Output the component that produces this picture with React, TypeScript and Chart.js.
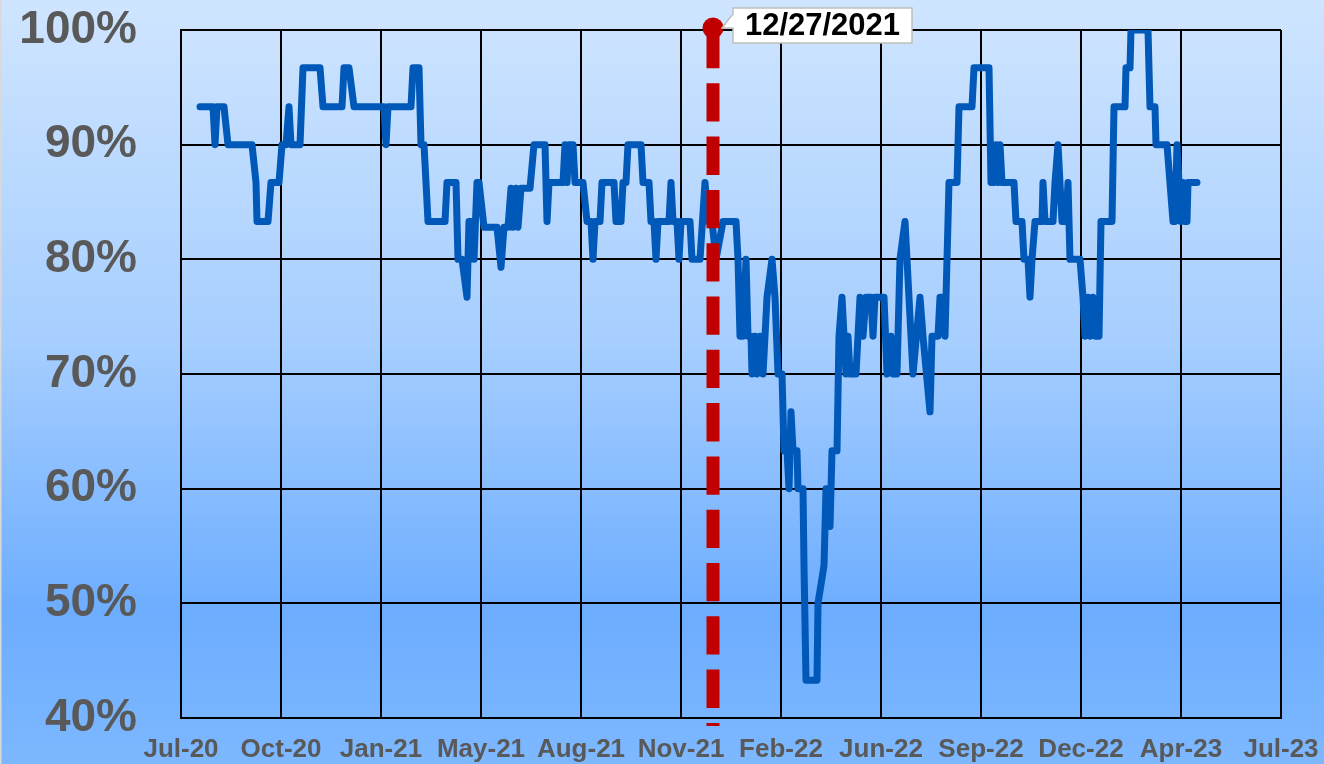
import React, { useEffect, useRef } from "react";
import { Chart, registerables } from "chart.js";

Chart.register(...registerables);

// x positions are days from the first axis tick (Jul-20); ticks every 100 days
const xTickLabels = ["Jul-20", "Oct-20", "Jan-21", "May-21", "Aug-21", "Nov-21", "Feb-22", "Jun-22", "Sep-22", "Dec-22", "Apr-23", "Jul-23"];
const yTickValues = [40, 50, 60, 70, 80, 90, 100];

const days = [
  19, 32, 34, 36, 43, 47, 71, 75, 76, 87, 90, 98, 101, 105, 108, 110, 119, 122, 139, 142,
  161, 163, 168, 173, 203, 205, 207, 230, 232, 238, 240, 243, 245, 247, 264, 266, 275, 277, 281, 286,
  288, 291, 293, 296, 298, 303, 316, 320, 323, 327, 330, 332, 335, 337, 340, 349, 353, 364, 366, 368,
  382, 384, 386, 388, 392, 394, 402, 406, 410, 412, 414, 419, 421, 433, 435, 440, 442, 445, 447, 460,
  462, 468, 470, 473, 475, 477, 488, 490, 492, 496, 498, 500, 509, 511, 519, 524, 527, 531, 535, 542,
  555, 557, 559, 562, 565, 567, 570, 571, 574, 576, 579, 582, 584, 586, 591, 594, 597, 601, 603, 606,
  608, 610, 612, 616, 617, 622, 623, 625, 636, 637, 643, 645, 647, 649, 651, 656, 658, 661, 665, 667,
  669, 675, 679, 682, 685, 690, 692, 694, 703, 706, 710, 712, 716, 719, 724, 732, 739, 742, 749, 751,
  757, 759, 762, 764, 766, 767, 768, 776, 778, 791, 793, 808, 810, 813, 815, 817, 819, 821, 833, 835,
  841, 843, 847, 849, 851, 854, 861, 862, 864, 872, 874, 877, 881, 885, 887, 889, 899, 902, 904, 907,
  909, 912, 914, 918, 920, 931, 933, 944, 945, 949, 950, 967, 969, 974, 975, 986, 992, 994, 996, 1000,
  1002, 1004, 1006, 1007, 1016,
];

const percentValues = [
  93.3, 93.3, 90, 93.3, 93.3, 90, 90, 86.7, 83.3, 83.3, 86.7, 86.7, 90, 90, 93.3, 90, 90, 96.7, 96.7, 93.3,
  93.3, 96.7, 96.7, 93.3, 93.3, 90, 93.3, 93.3, 96.7, 96.7, 90, 90, 86.7, 83.3, 83.3, 86.7, 86.7, 80, 80, 76.7,
  83.3, 83.3, 80, 86.7, 86.7, 82.8, 82.8, 79.3, 82.8, 82.8, 86.2, 82.8, 86.2, 82.8, 86.2, 86.2, 90, 90, 83.3, 86.7,
  86.7, 90, 86.7, 90, 90, 86.7, 86.7, 83.3, 83.3, 80, 83.3, 83.3, 86.7, 86.7, 83.3, 83.3, 86.7, 86.7, 90, 90,
  86.7, 86.7, 83.3, 83.3, 80, 83.3, 83.3, 86.7, 83.3, 83.3, 80, 83.3, 83.3, 80, 80, 86.7, 83.3, 83.3, 80, 83.3,
  83.3, 80, 73.3, 73.3, 80, 73.3, 73.3, 70, 73.3, 70, 73.3, 70, 73.3, 76.7, 80, 76.7, 70, 70, 63.3, 63.3,
  60, 66.7, 63.3, 63.3, 60, 60, 53.3, 43.3, 43.3, 50, 53.3, 60, 56.7, 56.7, 63.3, 63.3, 73.3, 76.7, 70, 73.3,
  70, 70, 76.7, 73.3, 76.7, 76.7, 73.3, 76.7, 76.7, 70, 73.3, 70, 70, 80, 83.3, 70, 76.7, 73.3, 66.7, 73.3,
  73.3, 76.7, 76.7, 73.3, 80, 83.3, 86.7, 86.7, 93.3, 93.3, 96.7, 96.7, 86.7, 86.7, 90, 86.7, 90, 86.7, 86.7, 83.3,
  83.3, 80, 80, 76.7, 80, 83.3, 83.3, 86.7, 83.3, 83.3, 86.7, 90, 83.3, 83.3, 86.7, 80, 80, 76.7, 73.3, 76.7,
  73.3, 76.7, 73.3, 73.3, 83.3, 83.3, 93.3, 93.3, 96.7, 96.7, 100, 100, 93.3, 93.3, 90, 90, 83.3, 83.3, 90, 83.3,
  86.7, 83.3, 83.3, 86.7, 86.7,
];

const markerDay = 532;
const markerLabel = "12/27/2021";

const FONT = "'Liberation Sans', Arial, sans-serif";

const backgroundPlugin = {
  id: "bgGradient",
  beforeDraw(chart: any) {
    const { ctx, width, height } = chart;
    const g = ctx.createLinearGradient(0, 0, 0, height);
    g.addColorStop(0, "#CFE5FF");
    g.addColorStop(0.45, "#A6CEFF");
    g.addColorStop(0.8, "#6DADFF");
    g.addColorStop(1, "#7DB8FF");
    ctx.save();
    ctx.fillStyle = g;
    ctx.fillRect(0, 0, width, height);
    // thin outer border on the left edge
    ctx.fillStyle = "#D9D9D9";
    ctx.fillRect(0, 0, 1.5, height);
    ctx.restore();
  },
};

const markerPlugin = {
  id: "dateMarker",
  afterDraw(chart: any) {
    const { ctx, chartArea, scales } = chart;
    const x = scales.x.getPixelForValue(markerDay);
    const top = chartArea.top;
    const bottom = chartArea.bottom + 8;
    ctx.save();
    // dashed red line
    ctx.strokeStyle = "#C00000";
    ctx.lineWidth = 13;
    ctx.setLineDash([38.3, 15]);
    ctx.lineCap = "butt";
    ctx.beginPath();
    ctx.moveTo(x, top);
    ctx.lineTo(x, bottom);
    ctx.stroke();
    ctx.setLineDash([]);
    // dot
    ctx.fillStyle = "#C00000";
    ctx.beginPath();
    ctx.arc(x, top - 2, 10.5, 0, Math.PI * 2);
    ctx.fill();
    // callout box
    const bx = x + 20;
    const by = 8;
    const bw = 179;
    const bh = 35;
    ctx.beginPath();
    ctx.moveTo(bx, by);
    ctx.lineTo(bx + bw, by);
    ctx.lineTo(bx + bw, by + bh);
    ctx.lineTo(bx, by + bh);
    ctx.lineTo(bx, by + 20);
    ctx.lineTo(x + 9, top - 2);
    ctx.lineTo(bx, by + 6);
    ctx.closePath();
    ctx.fillStyle = "#FFFFFF";
    ctx.fill();
    ctx.strokeStyle = "#BFBFBF";
    ctx.lineWidth = 1.5;
    ctx.stroke();
    ctx.fillStyle = "#000000";
    ctx.font = `bold 31px ${FONT}`;
    ctx.textAlign = "center";
    ctx.textBaseline = "middle";
    ctx.fillText(markerLabel, bx + bw / 2, by + bh / 2 + 1);
    ctx.restore();
  },
};

export default function App() {
  const canvasRef = useRef<HTMLCanvasElement | null>(null);

  useEffect(() => {
    if (!canvasRef.current) return;
    const points = days.map((d, i) => ({ x: d, y: percentValues[i] }));
    const chart = new Chart(canvasRef.current, {
      type: "line",
      data: {
        datasets: [
          {
            data: points,
            borderColor: "#0058B8",
            borderWidth: 7,
            pointRadius: 0,
            tension: 0,
            borderCapStyle: "round",
            borderJoinStyle: "round",
            fill: false,
          },
        ],
      },
      options: {
        animation: false,
        responsive: true,
        maintainAspectRatio: false,
        layout: { padding: { left: 0, top: 30, right: 43, bottom: 0 } },
        plugins: { legend: { display: false }, tooltip: { enabled: false } },
        scales: {
          x: {
            type: "linear",
            min: 0,
            max: (xTickLabels.length - 1) * 100,
            afterFit(scale: any) {
              scale.height = 46;
              scale.paddingLeft = 0;
              scale.paddingRight = 0;
              scale.paddingTop = 0;
              scale.paddingBottom = 0;
            },
            afterBuildTicks(scale: any) {
              scale.ticks = xTickLabels.map((_, i) => ({ value: i * 100 }));
            },
            ticks: {
              autoSkip: false,
              maxRotation: 0,
              padding: 16,
              color: "#595959",
              font: { family: FONT, size: 26, weight: "bold" },
              callback: (v: any) => xTickLabels[Math.round(Number(v) / 100)] ?? "",
            },
            grid: { color: "#000000", lineWidth: 2, drawTicks: false },
            border: { color: "#000000", width: 2 },
          },
          y: {
            min: 40,
            max: 100,
            afterFit(scale: any) {
              scale.width = 181;
              scale.paddingLeft = 0;
              scale.paddingRight = 0;
              scale.paddingTop = 0;
              scale.paddingBottom = 0;
            },
            afterBuildTicks(scale: any) {
              scale.ticks = yTickValues.map((v) => ({ value: v }));
            },
            ticks: {
              padding: 44,
              color: "#595959",
              font: { family: FONT, size: 46, weight: "bold" },
              callback: (v: any) => `${v}%`,
            },
            grid: { color: "#000000", lineWidth: 2, drawTicks: false },
            border: { color: "#000000", width: 2 },
          },
        },
      },
      plugins: [backgroundPlugin, markerPlugin],
    });
    return () => chart.destroy();
  }, []);

  return (
    <div style={{ position: "fixed", left: 0, top: 0, width: 1324, height: 764 }}>
      <canvas ref={canvasRef} />
    </div>
  );
}
